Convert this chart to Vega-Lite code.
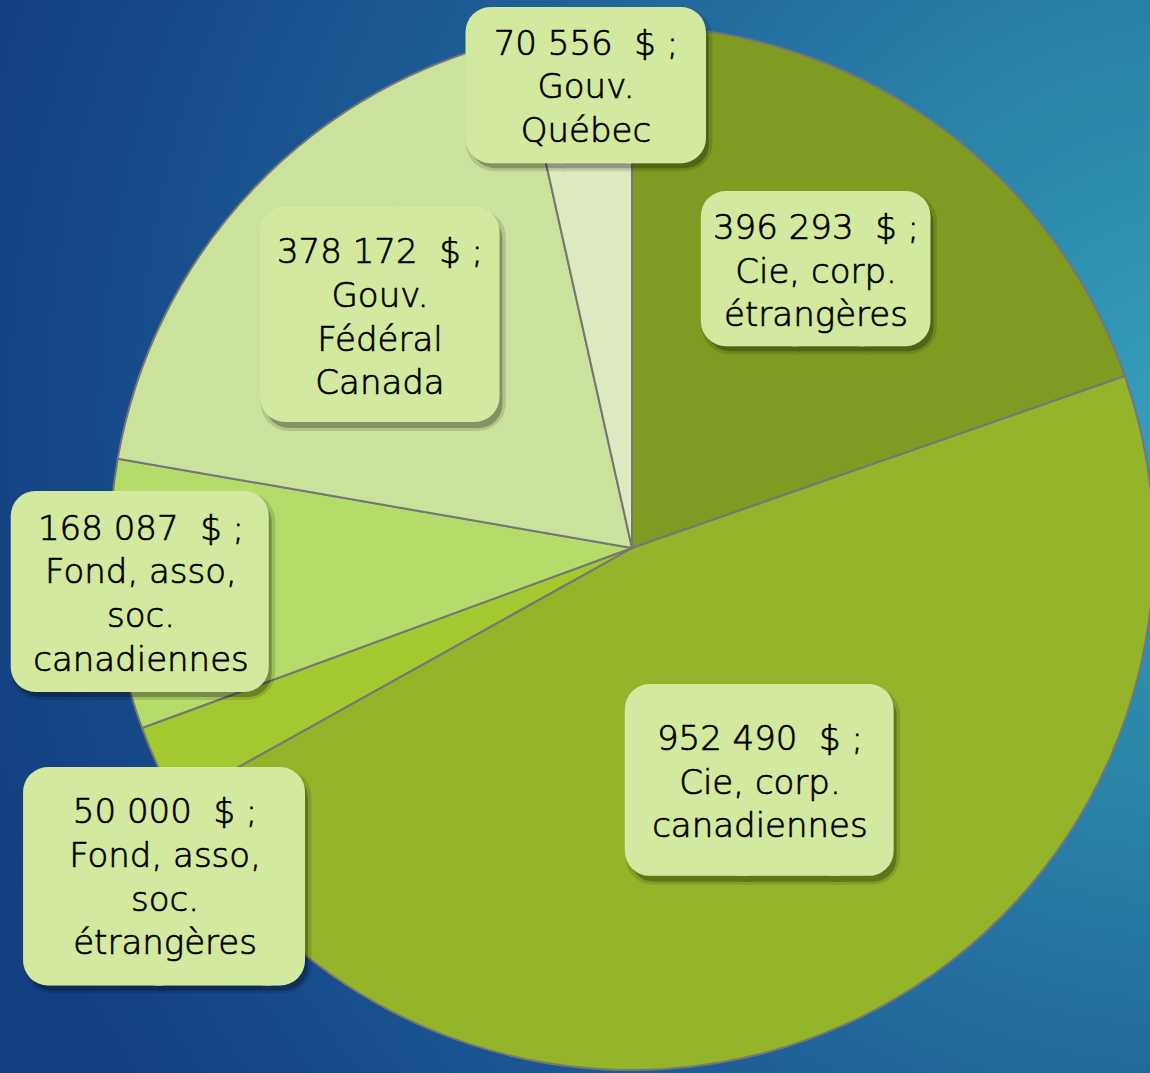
{
  "$schema": "https://vega.github.io/schema/vega-lite/v6.json",
  "width": 1264,
  "height": 1096,
  "autosize": {"type": "none"},
  "padding": 0,
  "background": "#13407a",
  "view": {
    "stroke": null,
    "fill": {
      "gradient": "radial",
      "x1": 0.949, "y1": 0.399, "r1": 0,
      "x2": 0.949, "y2": 0.399, "r2": 1,
      "stops": [
        {"offset": 0, "color": "#3aa0bb"},
        {"offset": 0.08, "color": "#3398b6"},
        {"offset": 0.28, "color": "#2b85a8"},
        {"offset": 0.46, "color": "#2470a0"},
        {"offset": 0.64, "color": "#1e5e95"},
        {"offset": 0.87, "color": "#16498a"},
        {"offset": 1, "color": "#134080"}
      ]
    }
  },
  "data": {
    "values": [
      {"cat": "Cie, corp. étrangères", "value": 396293, "ord": 1, "label": ["396 293\u00a0\u00a0$ ;", "Cie, corp.", "étrangères"]},
      {"cat": "Cie, corp. canadiennes", "value": 952490, "ord": 2, "label": ["952 490\u00a0\u00a0$ ;", "Cie, corp.", "canadiennes"]},
      {"cat": "Fond, asso, soc. étrangères", "value": 50000, "ord": 3, "label": ["50 000\u00a0\u00a0$ ;", "Fond, asso,", "soc.", "étrangères"]},
      {"cat": "Fond, asso, soc. canadiennes", "value": 168087, "ord": 4, "label": ["168 087\u00a0\u00a0$ ;", "Fond, asso,", "soc.", "canadiennes"]},
      {"cat": "Gouv. Fédéral Canada", "value": 378172, "ord": 5, "label": ["378 172\u00a0\u00a0$ ;", "Gouv.", "Fédéral", "Canada"]},
      {"cat": "Gouv. Québec", "value": 70556, "ord": 6, "label": ["70 556\u00a0\u00a0$ ;", "Gouv.", "Québec"]}
    ]
  },
  "encoding": {
    "theta": {"field": "value", "type": "quantitative", "stack": true},
    "order": {"field": "ord", "type": "quantitative"},
    "detail": {"field": "cat", "type": "nominal"}
  },
  "layer": [
    {
      "mark": {"type": "arc", "outerRadius": 522, "stroke": "#767676", "strokeWidth": 2},
      "encoding": {
        "color": {
          "field": "cat", "type": "nominal", "legend": null,
          "scale": {
            "domain": ["Cie, corp. étrangères", "Cie, corp. canadiennes", "Fond, asso, soc. étrangères", "Fond, asso, soc. canadiennes", "Gouv. Fédéral Canada", "Gouv. Québec"],
            "range": ["#7f9b22", "#94b52a", "#a4c830", "#b5db6a", "#cbe29d", "#dde9bf"]
          }
        }
      }
    },

    {"mark": {"type": "text", "radius": 335, "dx": 6.3, "dy": 2.6, "font": "DejaVu Sans", "fontSize": 88.5, "fill": "#000", "stroke": "#000", "strokeWidth": 56, "strokeJoin": "round", "opacity": 0.12},
     "encoding": {"text": {"condition": {"test": "datum.ord == 1", "value": "██▋"}, "value": ""}}},
    {"mark": {"type": "text", "radius": 335, "dx": 6.8, "dy": 3.6, "font": "DejaVu Sans", "fontSize": 88.5, "fill": "#000", "stroke": "#000", "strokeWidth": 48, "strokeJoin": "round", "opacity": 0.25},
     "encoding": {"text": {"condition": {"test": "datum.ord == 1", "value": "██▋"}, "value": ""}}},
    {"mark": {"type": "text", "radius": 335, "dx": 2.8, "dy": -2.9, "font": "DejaVu Sans", "fontSize": 88.5, "fill": "#d3e9a0", "stroke": "#d3e9a0", "strokeWidth": 50, "strokeJoin": "round"},
     "encoding": {"text": {"condition": {"test": "datum.ord == 1", "value": "██▋"}, "value": ""}}},
    {"mark": {"type": "text", "radius": 335, "dx": -10, "dy": -46, "font": "DejaVu Sans", "fontWeight": 300, "fontSize": 34, "lineHeight": 43.7, "fill": "#000000", "stroke": "#000000", "strokeWidth": 0.7},
     "encoding": {"text": {"condition": {"test": "datum.ord == 1", "field": "label", "type": "nominal"}, "value": ""}}},

    {"mark": {"type": "text", "radius": 265, "dx": 51.7, "dy": 1.2, "font": "DejaVu Sans", "fontSize": 119.4, "fill": "#000", "stroke": "#000", "strokeWidth": 56, "strokeJoin": "round", "opacity": 0.12},
     "encoding": {"text": {"condition": {"test": "datum.ord == 2", "value": "██▍"}, "value": ""}}},
    {"mark": {"type": "text", "radius": 265, "dx": 52.2, "dy": 2.2, "font": "DejaVu Sans", "fontSize": 119.4, "fill": "#000", "stroke": "#000", "strokeWidth": 48, "strokeJoin": "round", "opacity": 0.25},
     "encoding": {"text": {"condition": {"test": "datum.ord == 2", "value": "██▍"}, "value": ""}}},
    {"mark": {"type": "text", "radius": 265, "dx": 48.2, "dy": -4.3, "font": "DejaVu Sans", "fontSize": 119.4, "fill": "#d3e9a0", "stroke": "#d3e9a0", "strokeWidth": 50, "strokeJoin": "round"},
     "encoding": {"text": {"condition": {"test": "datum.ord == 2", "value": "██▍"}, "value": ""}}},
    {"mark": {"type": "text", "radius": 265, "dx": 19.5, "dy": -49.8, "font": "DejaVu Sans", "fontWeight": 300, "fontSize": 34, "lineHeight": 43.7, "fill": "#000000", "stroke": "#000000", "strokeWidth": 0.7},
     "encoding": {"text": {"condition": {"test": "datum.ord == 2", "field": "label", "type": "nominal"}, "value": ""}}},

    {"mark": {"type": "text", "radius": 561, "dx": 94.2, "dy": 105.2, "font": "DejaVu Sans", "fontSize": 141.8, "fill": "#000", "stroke": "#000", "strokeWidth": 56, "strokeJoin": "round", "opacity": 0.12},
     "encoding": {"text": {"condition": {"test": "datum.ord == 3", "value": "██▏"}, "value": ""}}},
    {"mark": {"type": "text", "radius": 561, "dx": 94.7, "dy": 106.2, "font": "DejaVu Sans", "fontSize": 141.8, "fill": "#000", "stroke": "#000", "strokeWidth": 48, "strokeJoin": "round", "opacity": 0.25},
     "encoding": {"text": {"condition": {"test": "datum.ord == 3", "value": "██▏"}, "value": ""}}},
    {"mark": {"type": "text", "radius": 561, "dx": 90.7, "dy": 99.7, "font": "DejaVu Sans", "fontSize": 141.8, "fill": "#d3e9a0", "stroke": "#d3e9a0", "strokeWidth": 50, "strokeJoin": "round"},
     "encoding": {"text": {"condition": {"test": "datum.ord == 3", "value": "██▏"}, "value": ""}}},
    {"mark": {"type": "text", "radius": 561, "dx": 43, "dy": 31.5, "font": "DejaVu Sans", "fontWeight": 300, "fontSize": 34, "lineHeight": 43.7, "fill": "#000000", "stroke": "#000000", "strokeWidth": 0.7},
     "encoding": {"text": {"condition": {"test": "datum.ord == 3", "field": "label", "type": "nominal"}, "value": ""}}},

    {"mark": {"type": "text", "radius": 493, "dx": 46.2, "dy": 10, "font": "DejaVu Sans", "fontSize": 127.1, "fill": "#000", "stroke": "#000", "strokeWidth": 56, "strokeJoin": "round", "opacity": 0.12},
     "encoding": {"text": {"condition": {"test": "datum.ord == 4", "value": "██▏"}, "value": ""}}},
    {"mark": {"type": "text", "radius": 493, "dx": 46.7, "dy": 11, "font": "DejaVu Sans", "fontSize": 127.1, "fill": "#000", "stroke": "#000", "strokeWidth": 48, "strokeJoin": "round", "opacity": 0.25},
     "encoding": {"text": {"condition": {"test": "datum.ord == 4", "value": "██▏"}, "value": ""}}},
    {"mark": {"type": "text", "radius": 493, "dx": 42.7, "dy": 4.5, "font": "DejaVu Sans", "fontSize": 127.1, "fill": "#d3e9a0", "stroke": "#d3e9a0", "strokeWidth": 50, "strokeJoin": "round"},
     "encoding": {"text": {"condition": {"test": "datum.ord == 4", "value": "██▏"}, "value": ""}}},
    {"mark": {"type": "text", "radius": 493, "dx": 0, "dy": -62.8, "font": "DejaVu Sans", "fontWeight": 300, "fontSize": 34, "lineHeight": 43.7, "fill": "#000000", "stroke": "#000000", "strokeWidth": 0.7},
     "encoding": {"text": {"condition": {"test": "datum.ord == 4", "field": "label", "type": "nominal"}, "value": ""}}},

    {"mark": {"type": "text", "radius": 344, "dx": 13.9, "dy": 15.2, "font": "DejaVu Sans", "fontSize": 139.2, "fill": "#000", "stroke": "#000", "strokeWidth": 56, "strokeJoin": "round", "opacity": 0.12},
     "encoding": {"text": {"condition": {"test": "datum.ord == 5", "value": "█▊"}, "value": ""}}},
    {"mark": {"type": "text", "radius": 344, "dx": 14.4, "dy": 16.2, "font": "DejaVu Sans", "fontSize": 139.2, "fill": "#000", "stroke": "#000", "strokeWidth": 48, "strokeJoin": "round", "opacity": 0.25},
     "encoding": {"text": {"condition": {"test": "datum.ord == 5", "value": "█▊"}, "value": ""}}},
    {"mark": {"type": "text", "radius": 344, "dx": 10.4, "dy": 9.7, "font": "DejaVu Sans", "fontSize": 139.2, "fill": "#d3e9a0", "stroke": "#d3e9a0", "strokeWidth": 50, "strokeJoin": "round"},
     "encoding": {"text": {"condition": {"test": "datum.ord == 5", "value": "█▊"}, "value": ""}}},
    {"mark": {"type": "text", "radius": 344, "dx": -3, "dy": -57.5, "font": "DejaVu Sans", "fontWeight": 300, "fontSize": 34, "lineHeight": 43.7, "fill": "#000000", "stroke": "#000000", "strokeWidth": 0.7},
     "encoding": {"text": {"condition": {"test": "datum.ord == 5", "field": "label", "type": "nominal"}, "value": ""}}},

    {"mark": {"type": "text", "radius": 465, "dx": 17.1, "dy": 8.6, "font": "DejaVu Sans", "fontSize": 89.3, "fill": "#000", "stroke": "#000", "strokeWidth": 56, "strokeJoin": "round", "opacity": 0.12},
     "encoding": {"text": {"condition": {"test": "datum.ord == 6", "value": "██▊"}, "value": ""}}},
    {"mark": {"type": "text", "radius": 465, "dx": 17.6, "dy": 9.6, "font": "DejaVu Sans", "fontSize": 89.3, "fill": "#000", "stroke": "#000", "strokeWidth": 48, "strokeJoin": "round", "opacity": 0.25},
     "encoding": {"text": {"condition": {"test": "datum.ord == 6", "value": "██▊"}, "value": ""}}},
    {"mark": {"type": "text", "radius": 465, "dx": 13.6, "dy": 3.1, "font": "DejaVu Sans", "fontSize": 89.3, "fill": "#d3e9a0", "stroke": "#d3e9a0", "strokeWidth": 50, "strokeJoin": "round"},
     "encoding": {"text": {"condition": {"test": "datum.ord == 6", "value": "██▊"}, "value": ""}}},
    {"mark": {"type": "text", "radius": 465, "dx": 5, "dy": -41, "font": "DejaVu Sans", "fontWeight": 300, "fontSize": 34, "lineHeight": 43.7, "fill": "#000000", "stroke": "#000000", "strokeWidth": 0.7},
     "encoding": {"text": {"condition": {"test": "datum.ord == 6", "field": "label", "type": "nominal"}, "value": ""}}}
  ]
}
